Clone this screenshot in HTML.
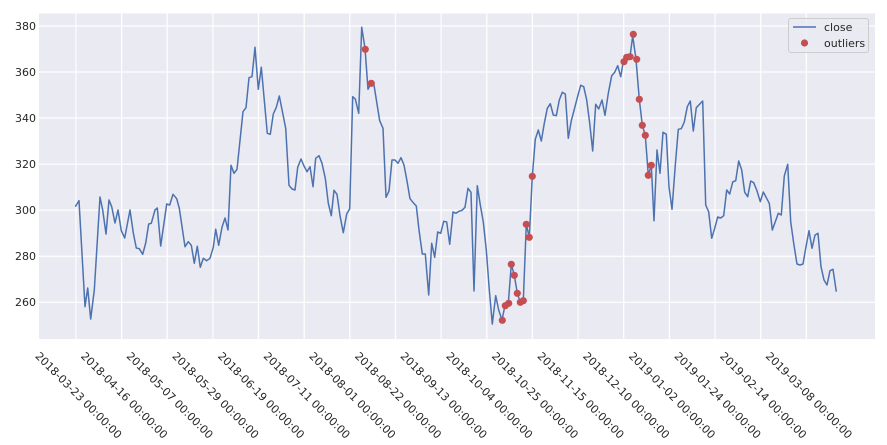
<!DOCTYPE html>
<html><head><meta charset="utf-8"><style>body{margin:0;background:#fff}svg{display:block}</style></head><body>
<svg width="887" height="445" xmlns="http://www.w3.org/2000/svg" font-family="DejaVu Sans, Liberation Sans, sans-serif">
<rect x="39" y="13.5" width="836" height="325.5" fill="#EAEAF2"/>
<g stroke="#fff" stroke-width="1.2">
<line x1="39" x2="875" y1="26" y2="26"/><line x1="39" x2="875" y1="72" y2="72"/><line x1="39" x2="875" y1="118" y2="118"/><line x1="39" x2="875" y1="164.2" y2="164.2"/><line x1="39" x2="875" y1="210.2" y2="210.2"/><line x1="39" x2="875" y1="256.3" y2="256.3"/><line x1="39" x2="875" y1="302.3" y2="302.3"/>
<g id="vg"></g>
</g>
<g stroke="#fff" stroke-width="1.2">
<line x1="75.9" x2="75.9" y1="13.5" y2="339"/><line x1="121.6" x2="121.6" y1="13.5" y2="339"/><line x1="167.2" x2="167.2" y1="13.5" y2="339"/><line x1="212.9" x2="212.9" y1="13.5" y2="339"/><line x1="258.5" x2="258.5" y1="13.5" y2="339"/><line x1="304.2" x2="304.2" y1="13.5" y2="339"/><line x1="349.8" x2="349.8" y1="13.5" y2="339"/><line x1="395.5" x2="395.5" y1="13.5" y2="339"/><line x1="441.1" x2="441.1" y1="13.5" y2="339"/><line x1="486.8" x2="486.8" y1="13.5" y2="339"/><line x1="532.4" x2="532.4" y1="13.5" y2="339"/><line x1="578.1" x2="578.1" y1="13.5" y2="339"/><line x1="623.7" x2="623.7" y1="13.5" y2="339"/><line x1="669.4" x2="669.4" y1="13.5" y2="339"/><line x1="715" x2="715" y1="13.5" y2="339"/><line x1="760.7" x2="760.7" y1="13.5" y2="339"/><line x1="806.3" x2="806.3" y1="13.5" y2="339"/>
</g>
<g font-size="11" fill="#262626" text-anchor="end">
<text x="36" y="30">380</text><text x="36" y="76">360</text><text x="36" y="122">340</text><text x="36" y="168">320</text><text x="36" y="214">300</text><text x="36" y="260">280</text><text x="36" y="306">260</text>
</g>
<g font-size="11" fill="#262626" text-anchor="middle">
<text transform="translate(75.9,398) rotate(45)">2018-03-23 00:00:00</text>
<text transform="translate(121.6,398) rotate(45)">2018-04-16 00:00:00</text>
<text transform="translate(167.2,398) rotate(45)">2018-05-07 00:00:00</text>
<text transform="translate(212.9,398) rotate(45)">2018-05-29 00:00:00</text>
<text transform="translate(258.5,398) rotate(45)">2018-06-19 00:00:00</text>
<text transform="translate(304.2,398) rotate(45)">2018-07-11 00:00:00</text>
<text transform="translate(349.8,398) rotate(45)">2018-08-01 00:00:00</text>
<text transform="translate(395.5,398) rotate(45)">2018-08-22 00:00:00</text>
<text transform="translate(441.1,398) rotate(45)">2018-09-13 00:00:00</text>
<text transform="translate(486.8,398) rotate(45)">2018-10-04 00:00:00</text>
<text transform="translate(532.4,398) rotate(45)">2018-10-25 00:00:00</text>
<text transform="translate(578.1,398) rotate(45)">2018-11-15 00:00:00</text>
<text transform="translate(623.7,398) rotate(45)">2018-12-10 00:00:00</text>
<text transform="translate(669.4,398) rotate(45)">2019-01-02 00:00:00</text>
<text transform="translate(715,398) rotate(45)">2019-01-24 00:00:00</text>
<text transform="translate(760.7,398) rotate(45)">2019-02-14 00:00:00</text>
<text transform="translate(806.3,398) rotate(45)">2019-03-08 00:00:00</text>
</g>
<polyline fill="none" stroke="#4C72B0" stroke-width="1.5" stroke-linejoin="round" points="75.3,206.7 79,200.7 85,306.7 87.7,288 90.7,319 94.3,290 100,197 102.7,210 106,234 109,200 111.7,206.7 115,223 118,210 121.3,230.7 124.7,238 130,210 133.3,233 136.3,248 139.3,248.7 142.7,254.3 145.7,243 148.7,224 151.3,223.3 155,210 157.3,208 160.7,246 166.7,204 169.7,205 173,194.3 176.7,198.7 179.3,208.3 185,246.7 188.3,241.7 191.3,245.3 194.3,263.3 197.3,246.3 200.3,267.3 203.3,258.3 206.7,260.7 210,258.3 213.3,247.3 215.7,229.3 218.7,245.3 222,227.3 225,218 228,230 231,165.3 234,173.3 237,169.3 243,111.7 246,107.7 249,77.7 252,76.7 255,47.3 258.3,89.3 261.3,67.3 267.3,133.3 270.3,134.3 273.3,114 276.3,107.3 279.3,96 285.7,128.3 289,185.3 292,189 295,190 297.7,167.3 301,159 304,166 307,171.7 310,166.7 313,186.7 315.7,158.3 319,155.7 322,163.3 325.3,178.3 328.3,203.3 331.3,215.7 334,190.3 337,194.3 340,215.7 343.3,232.7 346.7,214 349.7,208.7 352.7,96.7 355.3,99 358.7,113.3 361.7,27.3 365,48.3 368,89.3 371,83.3 374,85 377,104 379.7,120.7 383,128.3 386,197.3 389,191 392,160 395,160 398,163.3 401,157.7 404,165 407,181 410,198.7 413.3,202.7 416.3,206 419,230 422.3,254 425.3,254 428.7,295 431.7,243.3 434.7,257.3 437.7,232 440.7,233.3 443.7,221.3 446.7,222 449.7,244.3 453,212 456,213.3 459,211.3 462,210.3 465,207.3 468,188.3 471,192.3 474,291 477.3,185.7 480.3,205 483.3,222 486.3,250 489.3,290 492.3,324 495.7,295.7 498.7,310 502,320 505,305.3 508.3,303.3 511.3,264.3 514.3,275.3 517.3,293.3 520.3,302.3 523.3,300.7 526.3,224.3 529.3,237.3 532.3,176.3 535.3,139.3 538.3,130 541.3,141 544.3,123.3 547.3,108.3 550.3,103.7 553.3,115 556.3,115.7 559.3,100 562.3,92.3 565.3,94 568.3,138.3 571.3,120.7 574.3,109.3 577.3,97.7 580.7,85.3 583.7,86.7 586.7,100 589.7,123.3 592.7,151 595.7,104.3 598.7,109 602,100 605,115.3 608.3,93.3 611.7,75.7 614.7,72.3 617.7,65.7 620.7,76.7 623.3,61.7 626.7,57.3 630,56.7 632.7,36 636,59.3 639.3,99.3 642.3,125.3 645.3,135.3 648.3,175.3 651.3,165.3 654,220.7 657,150 660,173.3 663,132.3 666.3,134.3 669,186.7 672,209.3 675.3,165 678.3,129.3 681.3,128.7 684.3,122 687.3,106.7 690.3,101 693.3,131 696.3,107.7 702.7,101 705.7,205 708.7,212 711.7,238.3 714.7,228.3 717.7,217 720.7,218 723.7,215.7 726.7,190 729.7,194 732.7,182 735.7,180.7 738.7,161 741.7,170 744.7,192.3 747.7,196.7 750.7,181 753.7,182.7 756.7,190 760.3,201.7 763.3,192 766.3,197.7 769.3,203.3 772.3,230 775.3,221.7 778.3,213.3 781.3,215 784.3,176 787.7,164.3 790.7,221.7 793.7,243.3 797,264 800,265 803,264 806,246.7 809,230.7 812,248.3 815,235 818,233.3 821,266.7 824,280 827,285 830,270.7 833,269.3 836.3,291.7"/>
<g fill="#C44E52">
<circle cx="365.3" cy="49.3" r="3.6"/><circle cx="371.3" cy="83.3" r="3.6"/>
<circle cx="502.3" cy="320.3" r="3.6"/><circle cx="505.3" cy="305.7" r="3.6"/><circle cx="508.7" cy="303.3" r="3.6"/><circle cx="511.3" cy="264.3" r="3.6"/><circle cx="514.3" cy="275.3" r="3.6"/><circle cx="517.3" cy="293.3" r="3.6"/><circle cx="520.3" cy="302.3" r="3.6"/><circle cx="523.3" cy="300.7" r="3.6"/><circle cx="526.3" cy="224.3" r="3.6"/><circle cx="529.3" cy="237.3" r="3.6"/><circle cx="532.3" cy="176.3" r="3.6"/>
<circle cx="624" cy="61.7" r="3.6"/><circle cx="626.7" cy="57.3" r="3.6"/><circle cx="630" cy="56.7" r="3.6"/><circle cx="633.3" cy="34.3" r="3.6"/><circle cx="636.7" cy="59.3" r="3.6"/><circle cx="639.3" cy="99.3" r="3.6"/><circle cx="642.3" cy="125.3" r="3.6"/><circle cx="645.3" cy="135.3" r="3.6"/><circle cx="648.3" cy="175.3" r="3.6"/><circle cx="651.3" cy="165.3" r="3.6"/>
</g>
<rect x="788.5" y="18.5" width="80" height="34" rx="2.5" fill="#EAEAF2" fill-opacity="0.8" stroke="#cccccc"/>
<line x1="793" x2="816" y1="27" y2="27" stroke="#4C72B0" stroke-width="1.5"/>
<circle cx="804.5" cy="43" r="3.6" fill="#C44E52"/>
<g font-size="11" fill="#262626"><text x="824" y="31">close</text><text x="824" y="47">outliers</text></g>
</svg>
</body></html>
